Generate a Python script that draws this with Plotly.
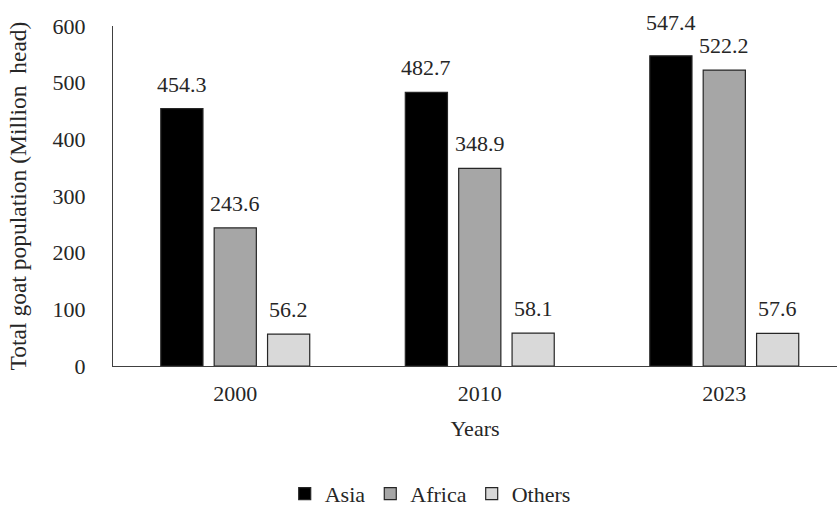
import plotly.graph_objects as go

years = ["2000", "2010", "2023"]
regions = ["Asia", "Africa", "Others"]
asia = [454.3, 482.7, 547.4]
africa = [243.6, 348.9, 522.2]
others = [56.2, 58.1, 57.6]
series_values = [asia, africa, others]
fills = ["#000000", "#a6a6a6", "#d9d9d9"]

FONT = "Liberation Serif"
FS = 22
BARGAP = 0.345
GROUPGAP = 0.21
LEFT, RIGHT, TOP, BOTTOM = 113, 0, 26, 140
W, H = 837, 506
X_RANGE = [-0.5, 2.461]
LABEL_GAP = 10
# extra lift for labels that would otherwise crowd a neighbour: (series, year) -> px
LABEL_NUDGE = {(0, 2): 9}

fig = go.Figure()
for name, vals, col in zip(regions, series_values, fills):
    fig.add_trace(go.Bar(
        x=years, y=vals, name=name,
        marker=dict(color=col, line=dict(color="#262626", width=1.2)),
    ))

# value labels above each bar, shifted to the bar's slot within its group
cat_px = (W - LEFT - RIGHT) / (X_RANGE[1] - X_RANGE[0])
slot_px = cat_px * (1 - BARGAP) / len(regions)
for i, vals in enumerate(series_values):
    for j, v in enumerate(vals):
        fig.add_annotation(
            x=j, y=v, text=f"{v:.1f}", showarrow=False,
            xref="x", yref="y", yanchor="bottom",
            xshift=(i - 1) * slot_px,
            yshift=LABEL_GAP + LABEL_NUDGE.get((i, j), 0),
            font=dict(family=FONT, size=FS, color="#262626"),
        )

fig.update_layout(
    width=W, height=H,
    margin=dict(l=LEFT, r=RIGHT, t=TOP, b=BOTTOM),
    plot_bgcolor="white", paper_bgcolor="white",
    barmode="group", bargap=BARGAP, bargroupgap=GROUPGAP,
    font=dict(family=FONT, size=FS, color="#262626"),
    showlegend=True,
    legend=dict(
        orientation="h", xref="container", yref="container",
        x=0.514, xanchor="center", y=0.024, yanchor="middle",
        font=dict(family=FONT, size=FS, color="#262626"),
        itemwidth=30, tracegroupgap=0,
    ),
    xaxis=dict(
        type="category", range=X_RANGE,
        showline=True, linecolor="#404040", linewidth=1.2,
        ticks="", showgrid=False,
        title=dict(text="Years", standoff=16, font=dict(family=FONT, size=FS)),
        tickfont=dict(family=FONT, size=FS),
        ticklabelstandoff=7,
    ),
    yaxis=dict(
        range=[0, 600], tickvals=[0, 100, 200, 300, 400, 500, 600],
        showline=True, linecolor="#404040", linewidth=1.2,
        ticks="", showgrid=False, zeroline=False,
        tickfont=dict(family=FONT, size=FS),
        ticklabelstandoff=22,
        title=dict(text="Total goat population (Million&nbsp; head)", standoff=19,
                   font=dict(family=FONT, size=23.5)),
    ),
)

fig.write_html("out.html")
